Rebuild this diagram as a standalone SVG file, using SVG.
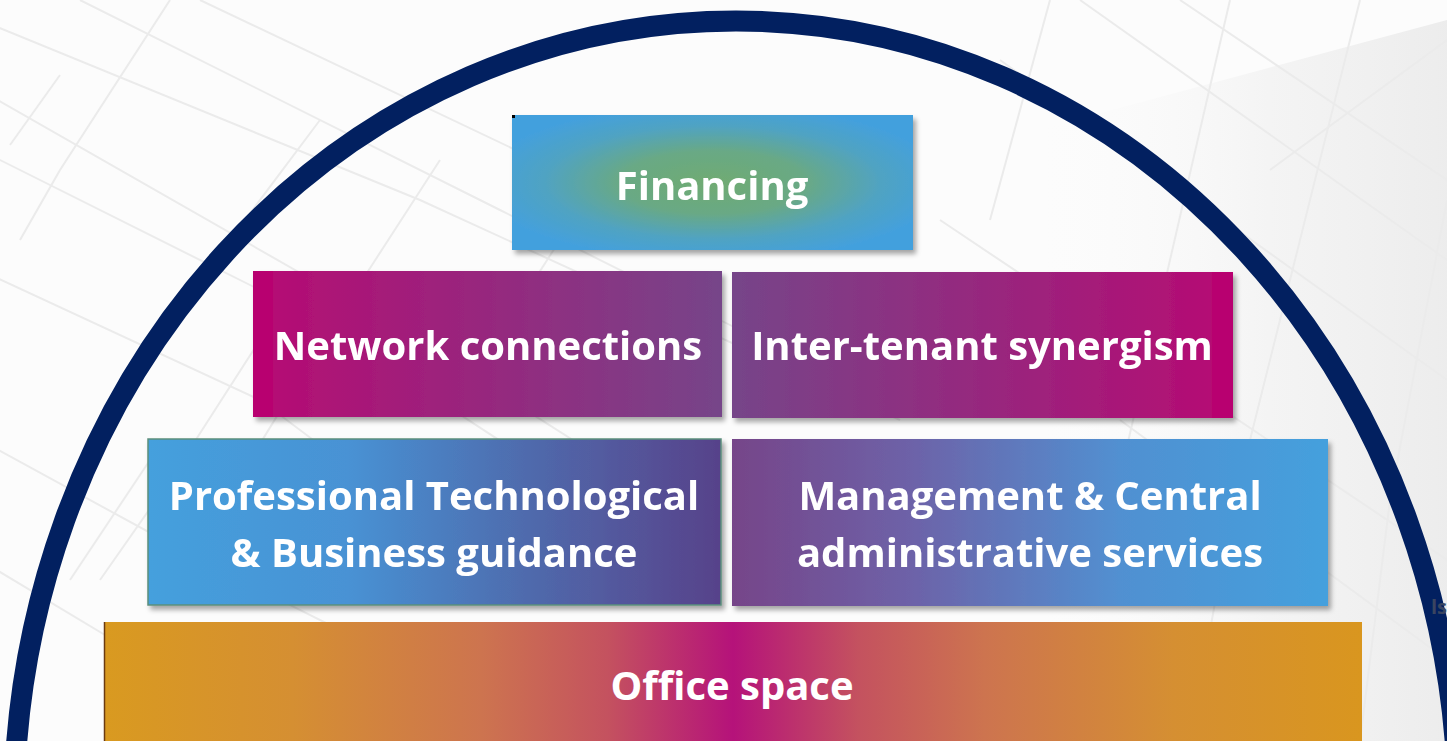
<svg xmlns="http://www.w3.org/2000/svg" width="1447" height="741" viewBox="0 0 1447 741">
  <defs>
    <radialGradient id="gFin" cx="50%" cy="50%" r="58%">
      <stop offset="0" stop-color="#70ab72"/>
      <stop offset="0.4" stop-color="#69a985"/>
      <stop offset="0.72" stop-color="#50a3c2"/>
      <stop offset="1" stop-color="#43a0dd"/>
    </radialGradient>
    <linearGradient id="gNet" x1="0" y1="0" x2="1" y2="0">
      <stop offset="0" stop-color="#b8006f"/>
      <stop offset="0.04" stop-color="#b8006f"/>
      <stop offset="0.045" stop-color="#b40d74"/>
      <stop offset="1" stop-color="#764589"/>
    </linearGradient>
    <linearGradient id="gInt" x1="0" y1="0" x2="1" y2="0">
      <stop offset="0" stop-color="#764589"/>
      <stop offset="0.955" stop-color="#b40d74"/>
      <stop offset="0.96" stop-color="#b8006f"/>
      <stop offset="1" stop-color="#b8006f"/>
    </linearGradient>
    <linearGradient id="gPro" x1="0" y1="0" x2="1" y2="0">
      <stop offset="0" stop-color="#44a0dd"/>
      <stop offset="0.35" stop-color="#4892d4"/>
      <stop offset="0.65" stop-color="#4f6cae"/>
      <stop offset="1" stop-color="#57428a"/>
    </linearGradient>
    <linearGradient id="gMan" x1="0" y1="0" x2="1" y2="0">
      <stop offset="0" stop-color="#764589"/>
      <stop offset="0.3" stop-color="#6d62a8"/>
      <stop offset="0.65" stop-color="#5190d1"/>
      <stop offset="1" stop-color="#44a0dd"/>
    </linearGradient>
    <linearGradient id="gOff" x1="0" y1="0" x2="1" y2="0">
      <stop offset="0" stop-color="#d99a20"/>
      <stop offset="0.15" stop-color="#d58f32"/>
      <stop offset="0.3" stop-color="#cd744f"/>
      <stop offset="0.4" stop-color="#c4525f"/>
      <stop offset="0.5" stop-color="#b5127a"/>
      <stop offset="0.6" stop-color="#c4525f"/>
      <stop offset="0.7" stop-color="#cd744f"/>
      <stop offset="0.85" stop-color="#d58f32"/>
      <stop offset="1" stop-color="#d9961f"/>
    </linearGradient>
    <linearGradient id="gBldg" x1="0" y1="0" x2="1" y2="0">
      <stop offset="0" stop-color="#ffffff" stop-opacity="0"/>
      <stop offset="0.6" stop-color="#ececec" stop-opacity="0.5"/>
      <stop offset="1" stop-color="#e2e2e2" stop-opacity="0.6"/>
    </linearGradient>
    <filter id="shadow" x="-5%" y="-10%" width="112%" height="125%">
      <feDropShadow dx="3" dy="4" stdDeviation="2.5" flood-color="#000" flood-opacity="0.35"/>
    </filter>
  </defs>
  <style>
    .lbl { font-family: "Open Sans", "Liberation Sans", sans-serif; font-weight: 700; font-size: 40px; fill: #ffffff; text-anchor: middle; }
    .grid { stroke: #ebebeb; stroke-width: 2; fill: none; }
    .arch { fill: none; stroke: #022060; stroke-width: 21; }
  </style>

  <!-- background: pale glass facade -->
  <rect width="1447" height="741" fill="#fcfcfc"/>
  <path d="M1000 140 L1447 20 L1447 741 L1060 741 Z" fill="url(#gBldg)"/>
  <g id="facade-left" class="grid">
    <path d="M-20 20 L420 200 L900 420"/>
    <path d="M-20 90 L400 330 L620 470"/>
    <path d="M-20 150 L300 310 L560 480"/>
    <path d="M-20 270 L260 400 L420 520"/>
    <path d="M-20 440 L200 560 L360 640"/>
    <path d="M-20 560 L130 650"/>
    <path d="M80 0 L500 210 L840 380"/>
    <path d="M200 0 L600 190"/>
    <path d="M60 75 L10 145"/>
    <path d="M170 0 L60 170 L20 240"/>
    <path d="M320 120 L200 280 L120 410"/>
    <path d="M440 160 L330 330 L250 460"/>
    <path d="M260 340 L170 480 L100 580"/>
    <path d="M150 460 L70 580"/>
    <path d="M560 240 L470 380"/>
  </g>
  <g id="facade-right" class="grid">
    <path d="M1080 0 L1447 260"/>
    <path d="M1000 60 L1447 380"/>
    <path d="M1180 0 L1447 180"/>
    <path d="M940 220 L1447 560"/>
    <path d="M1120 420 L1447 660"/>
    <path d="M1360 0 L1300 240 L1230 520 L1190 741"/>
    <path d="M1230 0 L1170 260 L1110 520"/>
    <path d="M1447 200 L1390 500 L1360 741"/>
    <path d="M1050 0 L990 220"/>
    <path d="M1447 40 L1270 170"/>
  </g>

  <!-- enclosing arch -->
  <g id="arch">
    <ellipse class="arch" cx="736" cy="811" rx="722" ry="790"/>
  </g>
  <text x="1431" y="614" font-family="Open Sans, Liberation Sans, sans-serif" font-size="20" font-weight="700" fill="#3a4560">ls</text>

  <!-- connectors: none in this layout -->
  <g id="connectors"></g>

  <g id="financing" filter="url(#shadow)">
    <rect x="512" y="115" width="401" height="135" fill="url(#gFin)"/>
    <rect x="512" y="115" width="3" height="3" fill="#000"/>
    <text class="lbl" x="712" y="200">Financing</text>
  </g>

  <g id="network-connections" filter="url(#shadow)">
    <rect x="253" y="271" width="469" height="146" fill="url(#gNet)"/>
    <text class="lbl" x="488" y="360">Network connections</text>
  </g>

  <g id="inter-tenant-synergism" filter="url(#shadow)">
    <rect x="732" y="272" width="501" height="146" fill="url(#gInt)"/>
    <text class="lbl" x="982" y="360">Inter-tenant synergism</text>
  </g>

  <g id="professional-guidance" filter="url(#shadow)">
    <rect x="148" y="439" width="573" height="166" fill="url(#gPro)" stroke="#5b8f7c" stroke-width="1.5"/>
    <text class="lbl" x="434" y="510">Professional Technological</text>
    <text class="lbl" x="434" y="567">&amp; Business guidance</text>
  </g>

  <g id="management-services" filter="url(#shadow)">
    <rect x="732" y="439" width="596" height="167" fill="url(#gMan)"/>
    <text class="lbl" x="1030" y="510">Management &amp; Central</text>
    <text class="lbl" x="1030" y="567">administrative services</text>
  </g>

  <g id="office-space">
    <rect x="104" y="622" width="1258" height="130" fill="url(#gOff)"/>
    <line x1="104.5" y1="622" x2="104.5" y2="741" stroke="#6b3a10" stroke-width="1.5"/>
    <text class="lbl" x="732" y="700">Office space</text>
  </g>
</svg>
